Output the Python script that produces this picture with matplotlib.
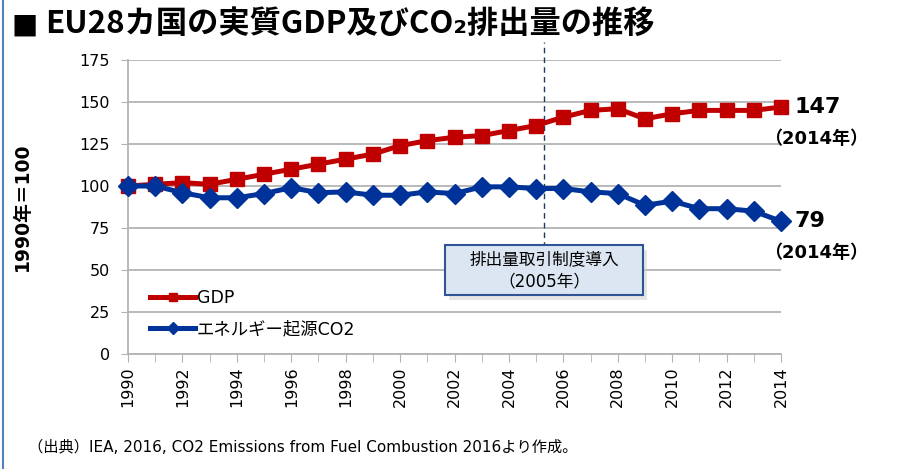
import matplotlib.pyplot as plt
from matplotlib.lines import Line2D
from matplotlib.patches import FancyBboxPatch

plt.rcParams["font.family"] = ["DejaVu Sans", "Noto Sans CJK JP"]

# =========================
# DATA (1990 = 100)
# =========================
years = list(range(1990, 2015))
gdp = [100, 101, 102, 101, 104, 107, 110, 113, 116, 119, 124, 127, 129, 130,
       133, 136, 141, 145, 146, 140, 143, 145, 145, 145, 147]
co2 = [100, 100, 96, 93, 93, 95.5, 99, 96, 96.5, 94.5, 94.5, 96.5, 95.5, 99.5,
       99.5, 98.5, 98.5, 96.5, 95.5, 88.5, 91, 86.5, 86.5, 85, 79]
yticks = [0, 25, 50, 75, 100, 125, 150, 175]
xticks = list(range(1990, 2015, 2))

title = "EU28カ国の実質GDP及びCO₂排出量の推移"
source = "（出典）IEA, 2016, CO2 Emissions from Fuel Combustion 2016より作成。"
ets_year = 2005.3

RED = "#c00000"
BLUE = "#003399"
GRID = "#b3b3b3"
JP = ["Noto Sans CJK JP", "DejaVu Sans"]

fig = plt.figure(figsize=(9, 4.69), dpi=100)
ax = fig.add_axes([128 / 900, 1 - 354 / 469, (781 - 128) / 900, (354 - 60) / 469])

ax.plot(years, gdp, color=RED, lw=3.6, marker="s", ms=10.5, label="GDP",
        clip_on=False, zorder=4)
ax.plot(years, co2, color=BLUE, lw=3.6, marker="D", ms=10.5, label="エネルギー起源CO2",
        clip_on=False, zorder=5)

ax.set_xlim(1990, 2014)
ax.set_ylim(0, 175)
ax.set_yticks(yticks)
ax.set_xticks(xticks)
ax.set_xticks(years, minor=True)
ax.set_xticklabels([str(y) for y in xticks], rotation=90, fontsize=11.5)
ax.tick_params(axis="y", labelsize=11.5, length=5, color=GRID, pad=8)
ax.tick_params(axis="x", which="both", length=6, color=GRID, pad=3)

ax.grid(axis="y", color=GRID, lw=1.3)
ax.set_axisbelow(True)
for side in ["top", "right"]:
    ax.spines[side].set_visible(False)
for side in ["left", "bottom"]:
    ax.spines[side].set_color(GRID)
    ax.spines[side].set_linewidth(1.3)

ax.set_ylabel("1990年＝100", fontsize=13.5, fontweight="bold", labelpad=34)

leg = ax.legend(loc="lower left", bbox_to_anchor=(0.01, 0.0), frameon=False,
                prop={"size": 12.5}, handlelength=2.6,
                handletextpad=0.1, labelspacing=0.75, markerscale=0.6)

# end labels
ax.text(2014.5, 147, "147", fontsize=16, fontweight="bold", va="center", ha="left")
ax.text(2015.3, 128, "（2014年）", fontsize=13, fontweight="bold", va="center",
        ha="center")
ax.text(2014.5, 79, "79", fontsize=16, fontweight="bold", va="center", ha="left")
ax.text(2015.3, 60, "（2014年）", fontsize=13, fontweight="bold", va="center",
        ha="center")

# 2005 ETS marker
ax.plot([ets_year, ets_year], [58, 186], color="#1f3864", lw=1, ls=(0, (4, 3)),
        clip_on=False, zorder=3)
shadow = FancyBboxPatch((449 / 900, 1 - 300 / 469), 198 / 900, 50 / 469,
                        boxstyle="square,pad=0", transform=fig.transFigure,
                        facecolor="#cccccc", edgecolor="none", alpha=0.5, zorder=5)
box = FancyBboxPatch((445 / 900, 1 - 295 / 469), 198 / 900, 50 / 469,
                     boxstyle="square,pad=0", transform=fig.transFigure,
                     facecolor="#dce6f2", edgecolor="#2f5597", lw=1.5, zorder=6)
fig.add_artist(shadow)
fig.add_artist(box)
fig.text(544 / 900, 1 - 270 / 469, "排出量取引制度導入\n（2005年）", fontsize=12,
         ha="center", va="center", linespacing=1.3, zorder=7)

fig.text(12 / 900, 1 - 25 / 469, "■", fontsize=20, va="center", ha="left")
fig.text(45 / 900, 1 - 24 / 469, title, fontsize=22.5, fontweight="bold",
         family=JP, va="center", ha="left")
fig.text(28 / 900, 1 - 447 / 469, source, fontsize=11,
         va="center", ha="left")

fig.add_artist(Line2D([0.003, 0.003], [0, 1], transform=fig.transFigure,
                      color="#4f81bd", lw=1.5))

fig.savefig("out.png", dpi=100)
